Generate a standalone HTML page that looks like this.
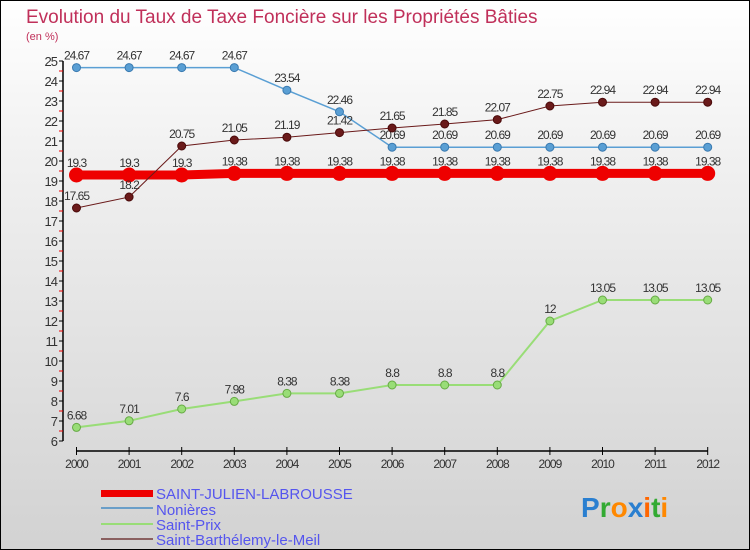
<!DOCTYPE html>
<html><head><meta charset="utf-8"><style>
body{margin:0}
#c{width:748px;height:548px;border:1px solid #000;background:linear-gradient(#fff,#f0f0f0 30%,#d2d2d2);position:relative;overflow:hidden;font-family:"Liberation Sans",sans-serif}
</style></head><body>
<div id="c">
<svg id="s" width="748" height="548" xmlns="http://www.w3.org/2000/svg">
<text x="25" y="22" font-size="19" fill="#c0305a">Evolution du Taux de Taxe Foncière sur les Propriétés Bâties</text>
<text x="25" y="39" font-size="11" fill="#c0305a">(en %)</text>
<g id="axes"></g><g id="series"></g>
<g font-size="15" fill="#5555ee">
<rect x="100" y="489" width="52" height="7" fill="#e00"/>
<text x="155" y="498">SAINT-JULIEN-LABROUSSE</text>
<rect x="100" y="506" width="52" height="2" fill="#6a9ec8"/>
<text x="155" y="514">Nonières</text>
<rect x="100" y="522" width="52" height="2" fill="#99dd77"/>
<text x="155" y="529">Saint-Prix</text>
<rect x="100" y="537" width="52" height="2" fill="#8a6060"/>
<text x="155" y="544">Saint-Barthélemy-le-Meil</text>
</g>
<text x="580" y="516" font-size="28" font-weight="bold"><tspan fill="#2a7fd0">P</tspan><tspan fill="#3a3">r</tspan><tspan fill="#f80">o</tspan><tspan fill="#2a7fd0">x</tspan><tspan fill="#f60">i</tspan><tspan fill="#3a3">t</tspan><tspan fill="#f80">i</tspan></text>
</svg></div>
<script>
const years=[2000,2001,2002,2003,2004,2005,2006,2007,2008,2009,2010,2011,2012];
const yTicks=[6,7,8,9,10,11,12,13,14,15,16,17,18,19,20,21,22,23,24,25];
const sjl=[19.3,19.3,19.3,19.38,19.38,19.38,19.38,19.38,19.38,19.38,19.38,19.38,19.38];
const non=[24.67,24.67,24.67,24.67,23.54,22.46,20.69,20.69,20.69,20.69,20.69,20.69,20.69];
const sp=[6.68,7.01,7.6,7.98,8.38,8.38,8.8,8.8,8.8,12,13.05,13.05,13.05];
const sbm=[17.65,18.2,20.75,21.05,21.19,21.42,21.65,21.85,22.07,22.75,22.94,22.94,22.94];
const NS="http://www.w3.org/2000/svg";
const X=i=>75.5+i*52.6, Y=v=>60+(25-v)*20;
function mk(t,a,p){const e=document.createElementNS(NS,t);for(const k in a)e.setAttribute(k,a[k]);p.appendChild(e);return e;}
const ax=document.getElementById('axes'), sg=document.getElementById('series');
let l=mk('line',{x1:62,y1:Y(25),x2:62,y2:Y(6),stroke:'#000','stroke-width':1.5},ax);


yTicks.forEach(v=>{
 mk('line',{x1:58,y1:Y(v),x2:62,y2:Y(v),stroke:'#000'},ax);
 if(v<25)mk('line',{x1:58,y1:Y(v+0.5),x2:62,y2:Y(v+0.5),stroke:'#e00'},ax);
 const t=mk('text',{x:56,y:Y(v)+5,'text-anchor':'end','font-size':13,fill:'#333','letter-spacing':-1},ax);
 
 
 t.textContent=v;
});
l=mk('line',{x1:X(0),y1:450,x2:X(12),y2:450,stroke:'#000','stroke-width':1.5},ax);


years.forEach((y,i)=>{
 mk('line',{x1:X(i),y1:446,x2:X(i),y2:454,stroke:'#000'},ax);
 const t=mk('text',{x:X(i),y:467,'text-anchor':'middle','font-size':12,fill:'#333','letter-spacing':-1},ax);
 
 
 t.textContent=y;
});
function series(d,col,w,r,name,dark){
 const g=mk('g',{},sg);
 
 
 mk('polyline',{points:d.map((v,i)=>X(i)+','+Y(v)).join(' '),fill:'none',stroke:col,'stroke-width':w},g);
 d.forEach((v,i)=>{
  const c=mk('circle',{cx:X(i),cy:Y(v),r:r,fill:col,stroke:dark,'stroke-width':1},g);
  
  
  const t=mk('text',{x:X(i),y:Y(v)-8,'text-anchor':'middle','font-size':12,fill:'#333','letter-spacing':-1},g);
  
  
  t.textContent=v;
 });
}
series(sp,'#99dd77',2,4,'saint-prix','#6a4');
series(non,'#5a9fd4',1.5,4,'nonieres','#3a7ab0');
series(sjl,'#ee0000',9,7,'saint-julien-labrousse','#e00');
series(sbm,'#6a1a1a',1,4,'saint-barthelemy','#4a0a0a');
</script>
</body></html>
